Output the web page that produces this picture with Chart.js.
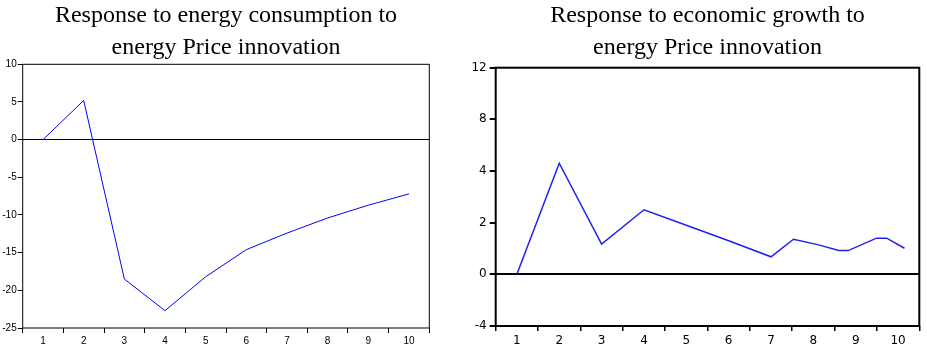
<!DOCTYPE html>
<html>
<head>
<meta charset="utf-8">
<script src="https://cdn.jsdelivr.net/npm/chart.js@4/dist/chart.umd.min.js"></script>
<style>
  body { margin: 0; background: #fff; }
  #left  { position: absolute; left: 0;   top: 0; }
  #right { position: absolute; left: 440px; top: 0; }
</style>
</head>
<body>
<canvas id="left" width="440" height="350"></canvas>
<canvas id="right" width="487" height="350"></canvas>
<script>
// periods 1..10
var periods = ['1', '2', '3', '4', '5', '6', '7', '8', '9', '10'];

// Response to energy consumption to energy Price innovation
var leftTitle = ['Response to energy consumption to', 'energy Price innovation'];
var leftY = [0, 5.2, -18.5, -22.7, -18.2, -14.6, -12.4, -10.4, -8.7, -7.2];

// Response to economic growth to energy Price innovation
// (line has a few extra wiggles after period 7, so x is kept as a number)
var rightTitle = ['Response to economic growth to', 'energy Price innovation'];
var rightX = [1, 2, 3, 4, 5, 6, 7, 7.53, 8.1, 8.6, 8.82, 9.49, 9.73, 10.15];
var rightY = [0, 4.3, 1.17, 2.5, 1.9, 1.3, 0.68, 1.36, 1.15, 0.92, 0.92, 1.4, 1.4, 1.01];
// the axis labels printed on the right panel (equally spaced)
var rightYLabels = ['-4', '0', '2', '4', '8', '12'];

var frame = {
	id: 'frame',
	afterDraw: function(chart, args, opts) {
		var a = chart.chartArea, ctx = chart.ctx;
		ctx.save();
		ctx.strokeStyle = '#000';
		ctx.lineWidth = opts.width;
		ctx.strokeRect(a.left, a.top, a.right - a.left, a.bottom - a.top);
		ctx.restore();
	}
};

function zeroLine(ctx) { return ctx.tick && ctx.tick.value === 0 ? '#000' : 'rgba(0,0,0,0)'; }

function make_chart(canvas_id, title, cfg) {
	var ctx = document.getElementById(canvas_id);
	new Chart(ctx, {
		type: 'line',
		data: { labels: periods, datasets: [ cfg.dataset ] },
		plugins: [ frame ],
		options: {
			responsive: false,
			animation: false,
			layout: { padding: { left: 0, right: cfg.padRight, top: 0, bottom: 0 } },
			elements: { point: { radius: 0 }, line: { tension: 0 } },
			plugins: {
				legend: { display: false },
				tooltip: { enabled: false },
				frame: { width: cfg.frameWidth },
				title: {
					display: true,
					text: title,
					fullSize: false,
					color: '#000',
					font: { family: '"Liberation Serif", "Times New Roman", serif', size: 24, weight: 'normal', lineHeight: 32 / 24 },
					padding: { top: 0, bottom: cfg.titleBottom }
				}
			},
			scales: cfg.scales
		}
	});
}

// left panel
make_chart('left', leftTitle, {
	padRight: 10.7,
	frameWidth: 1,
	titleBottom: 0.3,
	dataset: { data: leftY, borderColor: '#0000ff', borderWidth: 1, fill: false },
	scales: {
		x: {
			type: 'category',
			offset: true,
			afterFit: function(s) { s.height = 22; },
			border: { display: false },
			grid: { offset: true, drawOnChartArea: false, color: '#000', tickLength: 5 },
			ticks: { color: '#000', padding: 2, autoSkip: false, maxRotation: 0,
			         font: { family: '"Liberation Sans", Arial, sans-serif', size: 10 } }
		},
		y: {
			min: -25, max: 10,
			afterFit: function(s) { s.width = 22.7; },
			border: { display: false },
			grid: { color: zeroLine, tickColor: '#000', tickLength: 5, lineWidth: 1 },
			ticks: { stepSize: 5, color: '#000', padding: 1,
			         font: { family: '"Liberation Sans", Arial, sans-serif', size: 10 } }
		}
	}
});

// right panel
var rightPoints = rightX.map(function(x, i) { return { x: x, y: rightY[i] }; });
make_chart('right', rightTitle, {
	padRight: 7.7,
	frameWidth: 2,
	titleBottom: 3.7,
	dataset: { data: rightPoints, xAxisID: 'xv', borderColor: '#2020f0', borderWidth: 1.5, fill: false },
	scales: {
		x: {
			type: 'category',
			offset: true,
			afterFit: function(s) { s.height = 24; },
			border: { display: false },
			grid: { offset: true, drawOnChartArea: false, color: '#000', tickLength: 5, lineWidth: 1.5 },
			ticks: { color: '#000', padding: 3, autoSkip: false, maxRotation: 0,
			         font: { family: '"DejaVu Sans", sans-serif', size: 12 } }
		},
		xv: { type: 'linear', position: 'bottom', min: 0.5, max: 10.5, display: false },
		y: {
			min: -2, max: 8,
			afterFit: function(s) { s.width = 55.7; },
			border: { display: false },
			grid: { color: zeroLine, tickColor: '#000', tickLength: 6, lineWidth: 2 },
			ticks: { stepSize: 2, color: '#000', padding: 3,
			         font: { family: '"DejaVu Sans", sans-serif', size: 12 },
			         callback: function(v, i) { return rightYLabels[i]; } }
		}
	}
});
</script>
</body>
</html>
